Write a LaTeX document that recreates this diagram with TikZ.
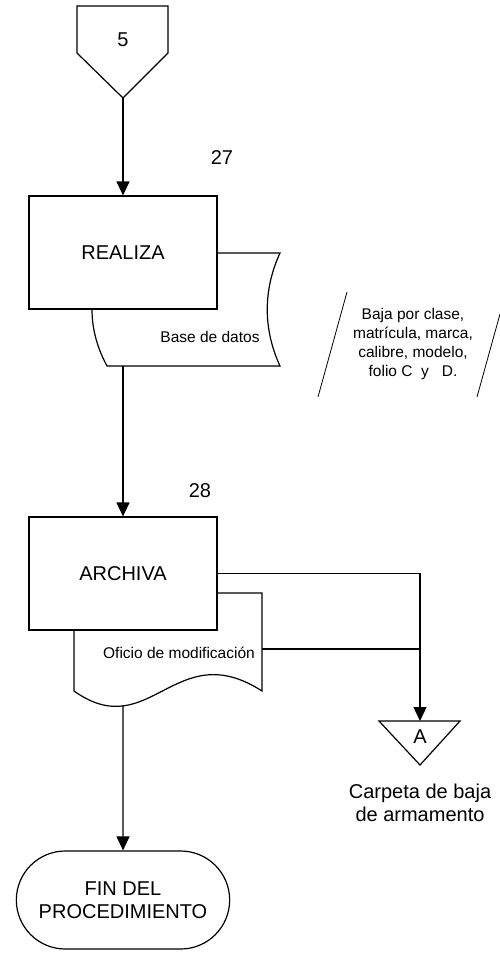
\documentclass[tikz,border=0pt]{standalone}
\usepackage{fontspec}
\setmainfont{Liberation Sans}
\usetikzlibrary{shapes.misc,arrows.meta}

\begin{document}
\begin{tikzpicture}[x=1pt,y=-1pt,line width=1.2pt,
    big/.style={font=\fontsize{20}{23}\selectfont},
    small/.style={font=\fontsize{15.5}{19}\selectfont},
    proc/.style={draw,fill=white,minimum width=188pt,minimum height=113pt,big},
    flow/.style={-{Triangle[length=14pt,width=13pt]}}]
  \useasboundingbox (0,0) rectangle (500,954);

  % conector de pagina
  \draw (77,6) -- (168,6) -- (168,53) -- (123,98) -- (77,53) -- cycle;
  \node[big] (C5) at (123,40) {5};
  \coordinate (C5tip) at (123,98);

  % paso 27
  \node[big] (N27) at (222,158) {27};
  \draw[fill=white] (107,253) -- (280,253)
    .. controls (263,290) and (263,329) .. (280,366) -- (107,366)
    .. controls (87,329) and (87,290) .. (107,253) -- cycle;
  \node[proc] (B27) at (123,252.5) {REALIZA};
  \node[small] (BD) at (210,337) {Base de datos};
  \coordinate (BDbot) at (123,366);

  % nota
  \draw[line width=0.8pt] (347,292) -- (318,397);
  \draw[line width=0.8pt] (477,397) -- (500,314);
  \node[small,align=center] (NOTA) at (413,344) {Baja por clase,\\matrícula, marca,\\calibre, modelo,\\folio C\ \ y\ \ \ D.};

  % paso 28
  \node[big] (N28) at (200,491) {28};
  \draw[fill=white] (74,593) -- (262,593) -- (262,691)
    .. controls (175,635) and (150,745) .. (74,691) -- cycle;
  \node[proc] (B28) at (123,573.5) {ARCHIVA};
  \node[small] (OF) at (179,653) {Oficio de modificación};
  \coordinate (OFbot) at (123,705);
  \coordinate (OFr) at (262,649);

  % carpeta
  \draw (379,721) -- (460,721) -- (420,765) -- cycle;
  \coordinate (Atop) at (420,721);
  \node[big] (A) at (420,737) {A};
  \node[big,align=center] (CARP) at (420,803) {Carpeta de baja\\de armamento};

  %% fin
  \node[draw,rounded rectangle,minimum width=220pt,minimum height=98pt,big,align=center] (FIN) at (123,900) {FIN DEL\\PROCEDIMIENTO};

  \path[flow] (C5tip) edge (B27) (BDbot) edge (B28) (OFbot) edge (FIN);
  \draw[flow] (B28.east) -| (Atop);
  \draw (OFr) -- (OFr -| Atop);
\end{tikzpicture}
\end{document}
